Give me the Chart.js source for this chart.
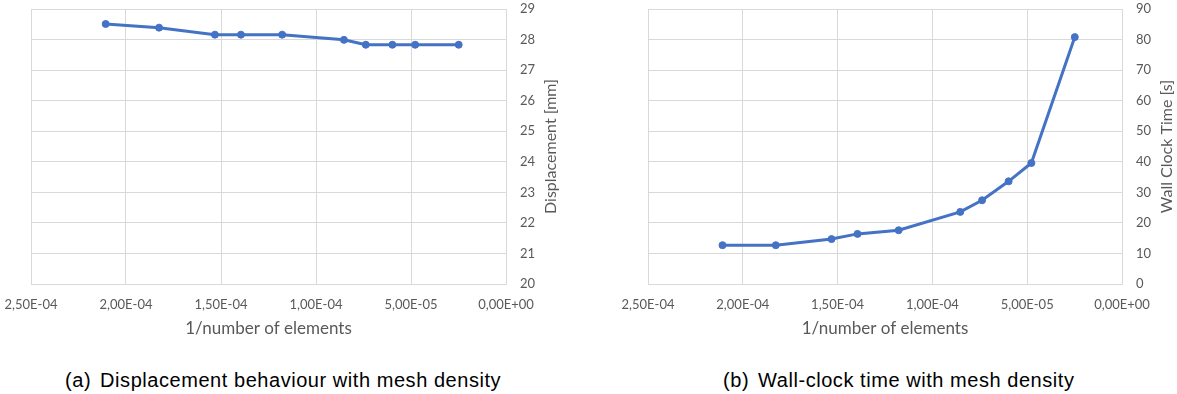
<!DOCTYPE html>
<html>
<head>
<meta charset="utf-8">
<script src="https://cdn.jsdelivr.net/npm/chart.js@4.4.1/dist/chart.umd.min.js"></script>
<style>
  html, body { margin: 0; padding: 0; background: #ffffff; }
  body { width: 1177px; height: 394px; position: relative; overflow: hidden; }
  .box { position: absolute; top: 0; }
  .cap { position: absolute; top: 369px; font-family: "Liberation Sans", Arial, sans-serif; font-size: 20px; letter-spacing: 0.55px; color: #000; white-space: nowrap; }
  .cap .lab { margin-right: 9px; }
</style>
</head>
<body>
<div class="box" id="boxA" style="left:0px;width:590px;height:345px;"><canvas id="chartA"></canvas></div>
<div class="box" id="boxB" style="left:590px;width:587px;height:345px;"><canvas id="chartB"></canvas></div>
<div class="cap" style="left:65px;"><span class="lab">(a)</span>Displacement behaviour with mesh density</div>
<div class="cap" style="left:723px;"><span class="lab">(b)</span>Wall-clock time with mesh density</div>
<script>
// ---- data ----
const inverseElements = [2.107e-4, 1.826e-4, 1.532e-4, 1.395e-4, 1.178e-4, 8.53e-5, 7.38e-5, 5.98e-5, 4.78e-5, 2.49e-5];
const displacement   = [28.51, 28.39, 28.16, 28.16, 28.16, 27.99, 27.83, 27.83, 27.83, 27.83];
const wallClockTime  = [12.7, 12.7, 14.7, 16.4, 17.6, 23.6, 27.4, 33.6, 39.6, 80.8];
const xTitle = "1/number of elements";
const yTitleA = "Displacement [mm]";
const yTitleB = "Wall Clock Time [s]";
const xTickMin = 0, xTickMax = 2.5e-4, xTickStep = 5e-5;
const yRangeA = [20, 29, 1];
const yRangeB = [0, 90, 10];

const blue = "#4472C4";
const gridCol = "#d9d9d9";
const textCol = "#595959";
const fontFam = "Lato, 'Open Sans', sans-serif";

function sciComma(v) {
  if (Math.abs(v) < 1e-12) return "0,00E+00";
  const parts = v.toExponential(2).split("e");
  const e = parseInt(parts[1], 10);
  return parts[0].replace(".", ",") + "E" + (e < 0 ? "-" : "+") + String(Math.abs(e)).padStart(2, "0");
}

const rightTitlePlugin = {
  id: "rightTitle",
  afterDraw(chart, args, opts) {
    const ctx = chart.ctx;
    const a = chart.chartArea;
    ctx.save();
    ctx.fillStyle = textCol;
    ctx.font = "16px " + fontFam;
    ctx.textAlign = "center";
    ctx.textBaseline = "middle";
    ctx.translate(a.right + opts.offset, (a.top + a.bottom) / 2);
    ctx.rotate(-Math.PI / 2);
    ctx.fillText(opts.text, 0, 0);
    ctx.restore();
  }
};

function makeChart(id, yVals, yRange, yTitle, padLeft, yAxisWidth) {
  const pts = inverseElements.map((x, i) => ({ x: x, y: yVals[i] }));
  return new Chart(document.getElementById(id), {
    type: "scatter",
    data: {
      datasets: [{
        data: pts,
        showLine: true,
        borderColor: blue,
        backgroundColor: blue,
        borderWidth: 3,
        pointRadius: 3.5,
        pointBorderWidth: 1,
        pointBackgroundColor: blue,
        pointBorderColor: blue,
        tension: 0
      }]
    },
    options: {
      responsive: true,
      maintainAspectRatio: false,
      animation: false,
      devicePixelRatio: 1,
      layout: { padding: { left: padLeft, top: 9, right: 0, bottom: 0 } },
      plugins: {
        legend: { display: false },
        tooltip: { enabled: false },
        rightTitle: { text: yTitle, offset: 45 }
      },
      scales: {
        x: {
          type: "linear",
          position: "bottom",
          reverse: true,
          min: xTickMin,
          max: xTickMax,
          afterFit(s) { s.height = 61; s.paddingLeft = 0; s.paddingRight = 0; },
          ticks: {
            stepSize: xTickStep,
            maxRotation: 0,
            autoSkip: false,
            padding: 13,
            color: textCol,
            font: { family: fontFam, size: 13 },
            callback: (v) => sciComma(v)
          },
          grid: { color: gridCol, lineWidth: 1, drawTicks: false },
          border: { color: gridCol, width: 1 },
          title: {
            display: true,
            text: xTitle,
            color: textCol,
            font: { family: fontFam, size: 17 },
            padding: { top: 0, bottom: 6 }
          }
        },
        y: {
          type: "linear",
          position: "right",
          min: yRange[0],
          max: yRange[1],
          afterFit(s) { s.width = yAxisWidth; s.paddingTop = 0; s.paddingBottom = 0; },
          ticks: {
            stepSize: yRange[2],
            padding: 14,
            color: textCol,
            font: { family: fontFam, size: 13 }
          },
          grid: { color: gridCol, lineWidth: 1, drawTicks: false },
          border: { color: gridCol, width: 1 }
        }
      }
    },
    plugins: [rightTitlePlugin]
  });
}

makeChart("chartA", displacement, yRangeA, yTitleA, 31, 84);
makeChart("chartB", wallClockTime, yRangeB, yTitleB, 58, 55);
</script>
</body>
</html>
